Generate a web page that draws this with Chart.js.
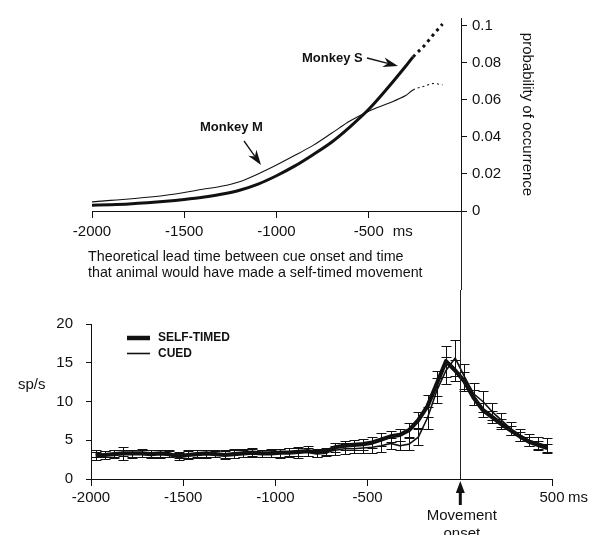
<!DOCTYPE html>
<html>
<head>
<meta charset="utf-8">
<script src="https://cdn.jsdelivr.net/npm/chart.js@4.4.1/dist/chart.umd.min.js"></script>
<style>
  html, body { margin: 0; padding: 0; background: #fff; }
  #wrap { position: relative; width: 589px; height: 535px; overflow: hidden; }
  canvas { position: absolute; left: 0; }
  #probChart { top: 0; }
  #rateChart { top: 290px; }
</style>
</head>
<body>
<div id="wrap">
  <canvas id="probChart" width="589" height="290"></canvas>
  <canvas id="rateChart" width="589" height="245"></canvas>
</div>
<script>
// Top panel: probability of a self-timed movement vs. theoretical lead time (ms)
const leadTimes = [-2000, -1900, -1800, -1700, -1600, -1500, -1400, -1300, -1200, -1100, -1000,
                   -900, -800, -700, -600, -500, -400, -300, -260, -200, -150, -100];
const monkeyS = [0.0031, 0.0034, 0.0038, 0.0044, 0.0052, 0.0062, 0.0074, 0.0090, 0.0112, 0.0145, 0.0190,
                 0.0243, 0.0305, 0.0372, 0.0455, 0.0548, 0.0660, 0.0780, 0.0830, 0.0890, 0.0950, 0.1008];
const monkeyM = [0.0049, 0.0057, 0.0065, 0.0074, 0.0085, 0.0100, 0.0117, 0.0133, 0.0158, 0.0200, 0.0248,
                 0.0300, 0.0355, 0.0420, 0.0486, 0.0538, 0.0578, 0.0622, 0.0652, 0.0672, 0.0687, 0.0680];
const dottedFrom = -260; // curves are drawn dotted past this lead time
const leadTicks = [-2000, -1500, -1000, -500];
const leadLabels = ['-2000', '-1500', '-1000', '-500'];
const probTicks = [0, 0.02, 0.04, 0.06, 0.08, 0.1];
const probLabels = ['0', '0.02', '0.04', '0.06', '0.08', '0.1'];

// Bottom panel: firing rate (sp/s) around movement onset, 50 ms bins (bin centres)
const times = [-1975, -1925, -1875, -1825, -1775, -1725, -1675, -1625, -1575, -1525,
               -1475, -1425, -1375, -1325, -1275, -1225, -1175, -1125, -1075, -1025,
               -975, -925, -875, -825, -775, -725, -675, -625, -575, -525,
               -475, -425, -375, -325, -275, -225, -175, -125, -75, -25,
               25, 75, 125, 175, 225, 275, 325, 375, 425, 475];
const selfTimed = [3.0, 3.1, 3.2, 3.3, 3.3, 3.3, 3.2, 3.3, 3.2, 2.9,
                   3.1, 3.2, 3.3, 3.2, 3.1, 3.2, 3.3, 3.4, 3.3, 3.3,
                   3.4, 3.4, 3.5, 3.6, 3.4, 3.5, 4.1, 4.3, 4.4, 4.5,
                   4.7, 5.1, 5.5, 5.7, 6.3, 7.6, 9.4, 12.3, 15.2, 14.0,
                   12.6, 10.5, 8.9, 8.0, 7.1, 6.3, 5.5, 4.8, 4.4, 4.0];
const selfTimedErr = [0.5, 0.5, 0.5, 0.8, 0.5, 0.5, 0.5, 0.5, 0.4, 0.4,
                      0.5, 0.5, 0.5, 0.4, 0.5, 0.5, 0.5, 0.5, 0.5, 0.5,
                      0.5, 0.6, 0.5, 0.6, 0.5, 0.5, 0.6, 0.6, 0.6, 0.7,
                      0.7, 0.8, 0.7, 0.8, 0.9, 1.0, 1.4, 1.6, 2.0, 1.4,
                      1.2, 1.0, 0.9, 0.8, 0.7, 0.6, 0.6, 0.6, 0.5, 0.5];
const cued = [3.3, 3.2, 3.3, 3.4, 3.2, 3.4, 3.3, 3.2, 3.3, 3.1,
              3.2, 3.3, 3.2, 3.3, 3.2, 3.3, 3.4, 3.5, 3.3, 3.4,
              3.3, 3.5, 3.4, 3.5, 3.3, 3.5, 3.7, 3.9, 3.9, 4.0,
              4.1, 4.3, 4.6, 4.3, 4.5, 5.4, 7.9, 11.4, 14.0, 15.6,
              13.2, 11.0, 10.0, 8.7, 7.6, 6.5, 5.7, 5.0, 4.6, 4.3];
const cuedErr = [0.5, 0.4, 0.5, 0.4, 0.5, 0.5, 0.4, 0.5, 0.5, 0.4,
                 0.5, 0.4, 0.5, 0.4, 0.5, 0.6, 0.5, 0.5, 0.5, 0.5,
                 0.6, 0.5, 0.7, 0.5, 0.5, 0.4, 0.6, 0.7, 0.6, 0.6,
                 0.7, 0.8, 0.7, 0.6, 0.8, 1.0, 1.4, 1.6, 1.8, 2.3,
                 1.6, 1.4, 1.3, 1.1, 0.9, 0.8, 0.8, 0.8, 0.8, 1.0];
const timeTicks = [-2000, -1500, -1000, -500, 500];
const timeLabels = ['-2000', '-1500', '-1000', '-500', '500'];
const rateTicks = [0, 5, 10, 15, 20];
const rateLabels = ['0', '5', '10', '15', '20'];

const INK = '#111';
const FONT = "'Liberation Sans', Arial, Helvetica, sans-serif";
Chart.defaults.font.family = FONT;
Chart.defaults.color = INK;

const toPoints = (xs, ys) => xs.map((x, i) => ({ x: x, y: ys[i] }));

const fixedTicks = (values) => (scale) => {
    scale.ticks = values.map(v => ({ value: v }));
};

function arrow(ctx, x1, y1, x2, y2, headLen, headHalf, width) {
    const ang = Math.atan2(y2 - y1, x2 - x1);
    const bx = x2 - headLen * Math.cos(ang), by = y2 - headLen * Math.sin(ang);
    const nx = x2 - headLen * 0.7 * Math.cos(ang), ny = y2 - headLen * 0.7 * Math.sin(ang);
    const px = -Math.sin(ang) * headHalf, py = Math.cos(ang) * headHalf;
    ctx.save();
    ctx.strokeStyle = INK;
    ctx.fillStyle = INK;
    ctx.lineWidth = width;
    ctx.beginPath();
    ctx.moveTo(x1, y1);
    ctx.lineTo(nx, ny);
    ctx.stroke();
    ctx.beginPath();
    ctx.moveTo(x2, y2);
    ctx.lineTo(bx + px, by + py);
    ctx.lineTo(nx, ny);
    ctx.lineTo(bx - px, by - py);
    ctx.closePath();
    ctx.fill();
    ctx.restore();
}

// error bars for datasets carrying an `errors` array
const errorBars = {
    id: 'errorBars',
    beforeDatasetsDraw(chart) {
        const { ctx, scales: { x, y } } = chart;
        ctx.save();
        ctx.strokeStyle = INK;
        ctx.lineWidth = 1;
        chart.data.datasets.forEach(ds => {
            if (!ds.errors) return;
            ds.data.forEach((p, i) => {
                const px = Math.round(x.getPixelForValue(p.x)) + 0.5;
                const top = Math.round(y.getPixelForValue(p.y + ds.errors[i])) + 0.5;
                const bot = Math.round(y.getPixelForValue(p.y - ds.errors[i])) + 0.5;
                ctx.beginPath();
                ctx.moveTo(px, top); ctx.lineTo(px, bot);
                ctx.moveTo(px - 5, top); ctx.lineTo(px + 5, top);
                ctx.moveTo(px - 5, bot); ctx.lineTo(px + 5, bot);
                ctx.stroke();
            });
        });
        ctx.restore();
    }
};

// vertical line marking movement onset (x = 0), shared by both panels
const onsetLine = {
    id: 'onsetLine',
    afterDraw(chart, args, opts) {
        const { ctx, chartArea, scales: { x } } = chart;
        const px = Math.round(x.getPixelForValue(0)) + 0.5;
        ctx.save();
        ctx.strokeStyle = '#222';
        ctx.lineWidth = 1;
        ctx.beginPath();
        if (opts.below) {
            ctx.moveTo(px, chartArea.bottom);
            ctx.lineTo(px, chart.height);
        } else {
            ctx.moveTo(px, 0);
            ctx.lineTo(px, chartArea.bottom);
        }
        ctx.stroke();
        ctx.restore();
    }
};

const probNotes = {
    id: 'probNotes',
    afterDraw(chart) {
        const { ctx, scales: { x } } = chart;
        ctx.save();
        ctx.fillStyle = INK;
        ctx.textBaseline = 'middle';
        ctx.font = 'bold 13px ' + FONT;
        ctx.fillText('Monkey S', 302, 58);
        ctx.fillText('Monkey M', 200, 127);
        ctx.font = '15px ' + FONT;
        ctx.fillText('ms', x.getPixelForValue(-500) + 24, 232);
        ctx.font = '14.3px ' + FONT;
        ctx.fillText('Theoretical lead time between cue onset and time', 88, 257);
        ctx.fillText('that animal would have made a self-timed movement', 88, 273);
        ctx.restore();
        arrow(ctx, 367, 58, 398, 66, 15, 5, 1.3);
        arrow(ctx, 244, 141, 261, 165, 15, 5, 1.3);
    }
};

const rateNotes = {
    id: 'rateNotes',
    afterDraw(chart) {
        const { ctx, chartArea, scales: { x } } = chart;
        const x0 = x.getPixelForValue(0);
        ctx.save();
        ctx.fillStyle = INK;
        ctx.strokeStyle = INK;
        // legend
        ctx.lineWidth = 4.5;
        ctx.beginPath(); ctx.moveTo(127, 48); ctx.lineTo(150, 48); ctx.stroke();
        ctx.lineWidth = 1.6;
        ctx.beginPath(); ctx.moveTo(127, 63.5); ctx.lineTo(150, 63.5); ctx.stroke();
        ctx.textBaseline = 'middle';
        ctx.font = 'bold 12px ' + FONT;
        ctx.fillText('SELF-TIMED', 158, 48);
        ctx.fillText('CUED', 158, 64);
        // axis texts
        ctx.font = '15px ' + FONT;
        ctx.fillText('sp/s', 18, 95);
        ctx.fillText('ms', x.getPixelForValue(500) + 16, 208);
        ctx.textAlign = 'center';
        ctx.fillText('Movement', x0 + 2, 226);
        ctx.fillText('onset', x0 + 2, 244);
        // onset arrow
        const yb = chartArea.bottom;
        ctx.beginPath();
        ctx.moveTo(x0 + 0.5, yb + 2);
        ctx.lineTo(x0 + 5, yb + 14);
        ctx.lineTo(x0 - 4, yb + 14);
        ctx.closePath();
        ctx.fill();
        ctx.fillRect(x0 - 1, yb + 13, 3, 13);
        ctx.restore();
    }
};

const axisLook = (tickLength) => ({
    grid: { drawOnChartArea: false, drawTicks: true, tickLength: tickLength, color: INK, tickColor: INK },
    border: { display: true, color: INK, width: 1 }
});

new Chart(document.getElementById('probChart'), {
    type: 'line',
    data: {
        datasets: [
            {
                label: 'Monkey S',
                data: toPoints(leadTimes, monkeyS),
                borderColor: INK,
                borderWidth: 3,
                pointRadius: 0,
                cubicInterpolationMode: 'monotone',
                segment: { borderDash: c => c.p0.parsed.x >= dottedFrom ? [3, 4] : undefined }
            },
            {
                label: 'Monkey M',
                data: toPoints(leadTimes, monkeyM),
                borderColor: INK,
                borderWidth: 1.1,
                pointRadius: 0,
                cubicInterpolationMode: 'monotone',
                segment: { borderDash: c => c.p0.parsed.x >= dottedFrom ? [2, 3] : undefined }
            }
        ]
    },
    options: {
        responsive: false,
        animation: false,
        layout: { padding: { left: 92, top: 18, right: 49, bottom: 0 } },
        plugins: {
            legend: { display: false },
            tooltip: { enabled: false },
            onsetLine: { below: true }
        },
        scales: {
            x: {
                type: 'linear',
                min: -2000,
                max: 0,
                ...axisLook(7),
                afterBuildTicks: fixedTicks(leadTicks),
                afterFit: s => { s.height = 79; },
                ticks: {
                    autoSkip: false,
                    maxRotation: 0,
                    padding: 5,
                    font: { size: 15 },
                    callback: v => leadLabels[leadTicks.indexOf(v)]
                }
            },
            y: {
                type: 'linear',
                position: 'right',
                min: 0,
                max: 0.104,
                ...axisLook(6),
                afterBuildTicks: fixedTicks(probTicks),
                afterFit: s => { s.width = 79; },
                ticks: {
                    padding: 5,
                    font: { size: 15 },
                    callback: v => probLabels[probTicks.indexOf(v)]
                },
                title: {
                    display: true,
                    text: 'probability of occurrence',
                    font: { size: 15 },
                    padding: 4
                }
            }
        }
    },
    plugins: [onsetLine, probNotes]
});

new Chart(document.getElementById('rateChart'), {
    type: 'line',
    data: {
        datasets: [
            {
                label: 'SELF-TIMED',
                data: toPoints(times, selfTimed),
                errors: selfTimedErr,
                borderColor: INK,
                borderWidth: 4.2,
                borderJoinStyle: 'round',
                pointRadius: 0,
                tension: 0
            },
            {
                label: 'CUED',
                data: toPoints(times, cued),
                errors: cuedErr,
                borderColor: INK,
                borderWidth: 1.6,
                borderJoinStyle: 'round',
                pointRadius: 0,
                tension: 0
            }
        ]
    },
    options: {
        responsive: false,
        animation: false,
        layout: { padding: { left: 0, top: 34, right: 37, bottom: 0 } },
        plugins: {
            legend: { display: false },
            tooltip: { enabled: false },
            onsetLine: { below: false }
        },
        scales: {
            x: {
                type: 'linear',
                min: -2000,
                max: 500,
                ...axisLook(7),
                afterBuildTicks: fixedTicks(timeTicks),
                afterFit: s => { s.height = 56; },
                ticks: {
                    autoSkip: false,
                    maxRotation: 0,
                    padding: 3,
                    font: { size: 15 },
                    callback: v => timeLabels[timeTicks.indexOf(v)]
                }
            },
            y: {
                type: 'linear',
                position: 'left',
                min: 0,
                max: 20,
                ...axisLook(5),
                afterBuildTicks: fixedTicks(rateTicks),
                afterFit: s => { s.width = 91; },
                ticks: {
                    padding: 13,
                    font: { size: 15 },
                    callback: v => rateLabels[rateTicks.indexOf(v)]
                }
            }
        }
    },
    plugins: [errorBars, onsetLine, rateNotes]
});
</script>
</body>
</html>
